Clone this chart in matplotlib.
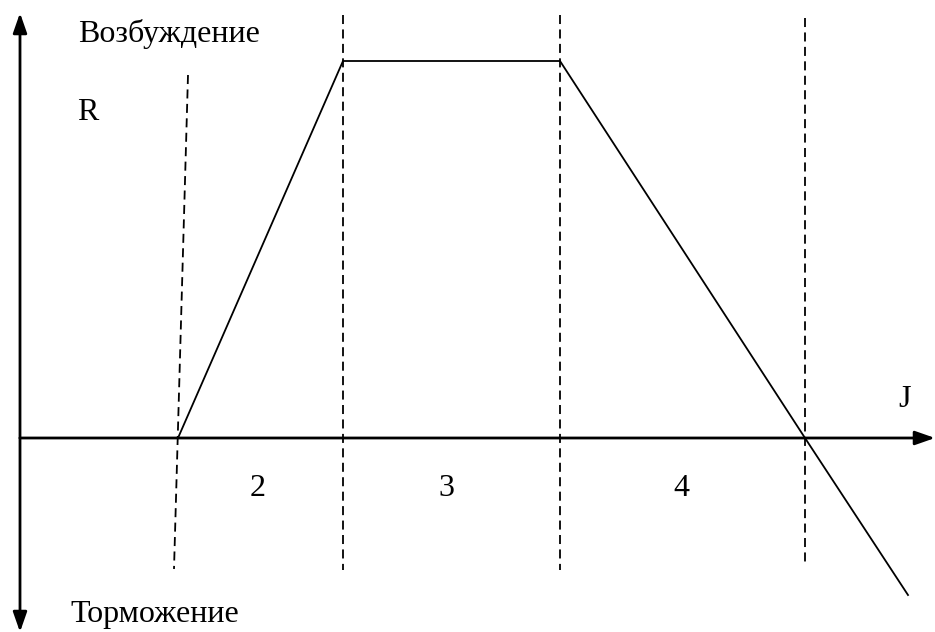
import matplotlib
matplotlib.use('Agg')
import matplotlib.pyplot as plt

# Характеристика R(J): точки ломаной
j_points = [158, 323, 540, 785, 888]
r_points = [0, 377, 377, 0, -157]

# Границы зон (пунктир): J сверху, J снизу, R сверху, R снизу
bound_j_top = [168, 323, 540, 785]
bound_j_bot = [154, 323, 540, 785]
bound_r_top = [363, 423, 423, 420]
bound_r_bot = [-131, -132, -132, -127]

# Номера зон
zone_labels = ['2', '3', '4']
zone_j = [230, 418, 653]

fig = plt.figure(figsize=(9.35, 6.32), dpi=100)
ax = fig.add_axes([0, 0, 1, 1])
ax.set_xlim(-20, 915)
ax.set_ylim(-194, 438)
ax.axis('off')

font = dict(family='Liberation Serif', fontsize=23, color='black')

# Оси со стрелками
arrow = dict(arrowstyle='-|>,head_length=1.2,head_width=0.42', color='black', lw=2, shrinkA=0, shrinkB=0)
ax.annotate('', xy=(0, 425), xytext=(0, 0), arrowprops=arrow)
ax.annotate('', xy=(0, -194), xytext=(0, 0), arrowprops=arrow)
ax.annotate('', xy=(915, 0), xytext=(0, 0), arrowprops=arrow)

# Пунктирные границы зон
for jt, jb, rt, rb in zip(bound_j_top, bound_j_bot, bound_r_top, bound_r_bot):
    ax.plot([jt, jb], [rt, rb], color='black', lw=1.3, linestyle=(0, (5, 3)))

# Основная кривая
ax.plot(j_points, r_points, color='black', lw=1.3)

# Подписи
ax.text(58, 396, 'Возбуждение', **font)
ax.text(57, 318, 'R', **font)
ax.text(878, 31, 'J', **font)
ax.text(50, -184, 'Торможение', **font)
for lab, jz in zip(zone_labels, zone_j):
    ax.text(jz, -58, lab, **font)

fig.savefig('out.png', dpi=100)
